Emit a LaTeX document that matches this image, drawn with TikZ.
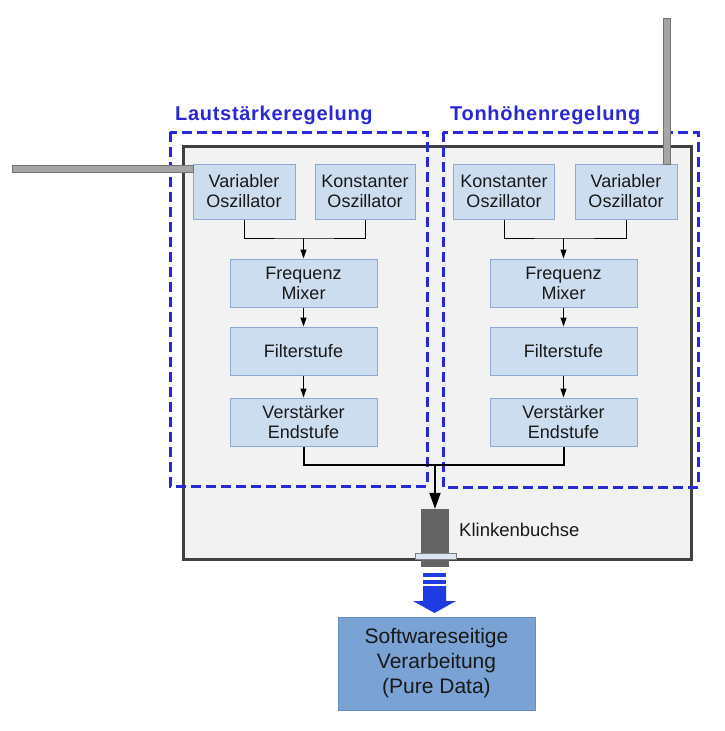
\documentclass[tikz,border=0pt]{standalone}
\usepackage{fontspec}
\setmainfont{Liberation Sans}
\usetikzlibrary{arrows.meta}
\definecolor{boxfill}{RGB}{205,221,240}
\definecolor{boxline}{RGB}{140,170,210}
\definecolor{swfill}{RGB}{122,162,212}
\definecolor{swline}{RGB}{100,140,195}
\definecolor{dashblue}{RGB}{40,40,215}
\definecolor{arrowblue}{RGB}{30,60,225}
\definecolor{outerfill}{RGB}{242,242,242}
\definecolor{outerline}{RGB}{64,64,64}
\definecolor{barfill}{RGB}{165,165,165}
\definecolor{barline}{RGB}{115,115,115}
\definecolor{jackgray}{RGB}{100,100,100}
\definecolor{collar}{RGB}{220,230,242}
\newfontfamily\labfont[LetterSpace=3.5]{Liberation Sans}
\begin{document}
\begin{tikzpicture}[x=1pt,y=-1pt,
  blk/.style={draw=boxline,fill=boxfill,line width=1pt,inner sep=0pt,align=center,
    font=\fontsize{18}{20}\selectfont,text=black!90,minimum height=48pt,minimum width=147pt},
  osc/.style={blk,minimum height=55pt,minimum width=102pt},
  grp/.style={draw=dashblue,line width=3pt,dash pattern=on 10pt off 5pt},
  grplabel/.style={text=dashblue,font=\labfont\bfseries\fontsize{20}{22}\selectfont,inner sep=0pt,anchor=west},
  conn/.style={draw=black,line width=1pt},
  arr/.style={conn,-{Triangle[length=9pt,width=6pt]}},
  bigconn/.style={draw=black,line width=2pt},
  bigarr/.style={bigconn,-{Triangle[length=16pt,width=11pt]}},
  bar/.style={fill=barfill,draw=barline,line width=1pt}
]
\useasboundingbox (0,0) rectangle (725,731);

% outer housing
\filldraw[fill=outerfill,draw=outerline,line width=3pt] (183,146) rectangle (691,559);

% group frames
\draw[grp] (170,132) rectangle (427,486);
\draw[grp] (443,132) rectangle (698,487);
\node[grplabel] (labL) at (175,115) {Lautstärkeregelung};
\node[grplabel] (labR) at (450,115) {Tonhöhenregelung};

% left chain
\node[osc] (varL) at (244,191.5) {Variabler\\Oszillator};
\node[osc,minimum width=100pt] (konL) at (365,191.5) {Konstanter\\Oszillator};
\node[blk] (freqL) at (303.5,283) {Frequenz\\Mixer};
\node[blk] (filtL) at (303.5,351) {Filterstufe};
\node[blk] (verL) at (303.5,422) {Verstärker\\Endstufe};

% right chain
\node[osc,minimum width=101pt] (konR) at (504,191.5) {Konstanter\\Oszillator};
\node[osc] (varR) at (626,191.5) {Variabler\\Oszillator};
\node[blk] (freqR) at (563.5,283) {Frequenz\\Mixer};
\node[blk] (filtR) at (563.5,351) {Filterstufe};
\node[blk] (verR) at (563.5,422) {Verstärker\\Endstufe};

% antennas
\draw[bar] (12,165) rectangle (193,172);
\draw[bar] (663,18) rectangle (670,164);

% connectors left
\coordinate (jL) at (303.5,238);
\draw[conn] (varL.south) |- (jL) -| (konL.south);
\draw[arr] (jL) -- (freqL.north);
\draw[arr] (freqL) -- (filtL);
\draw[arr] (filtL) -- (verL);

% connectors right
\coordinate (jR) at (563.5,238);
\draw[conn] (konR.south) |- (jR) -| (varR.south);
\draw[arr] (jR) -- (freqR.north);
\draw[arr] (freqR) -- (filtR);
\draw[arr] (filtR) -- (verR);

% merge to jack
\coordinate (jM) at (435,465);
\draw[bigconn] (verL.south) |- (jM) -| (verR.south);

% jack
\node[fill=jackgray,draw=none,minimum width=28pt,minimum height=58pt,inner sep=0pt] (jack) at (435,538) {};
\node[fill=collar,draw=gray,line width=0.8pt,minimum width=41pt,minimum height=6pt,inner sep=0pt] (coll) at (435.5,556) {};
\draw[bigarr] (jM) -- (jack.north);
\node[anchor=west,inner sep=0pt,font=\fontsize{18.5}{20}\selectfont,text=black!90] (klinke) at (459,530) {Klinkenbuchse};

% blue arrow
\fill[arrowblue] (423,573) rectangle (446,577);
\fill[arrowblue] (423,579.5) rectangle (446,583.5);
\fill[arrowblue] (423,586) -- (446,586) -- (446,601) -- (456,601) -- (434.5,613) -- (413,601) -- (423,601) -- cycle;

% software box
\node[draw=swline,fill=swfill,line width=1pt,minimum width=197pt,minimum height=93pt,inner sep=0pt,
  align=center,font=\fontsize{21}{25}\selectfont,text=black!90] (sw) at (436.5,663.5)
  {Softwareseitige\\Verarbeitung\\(Pure Data)};
\end{tikzpicture}
\end{document}
